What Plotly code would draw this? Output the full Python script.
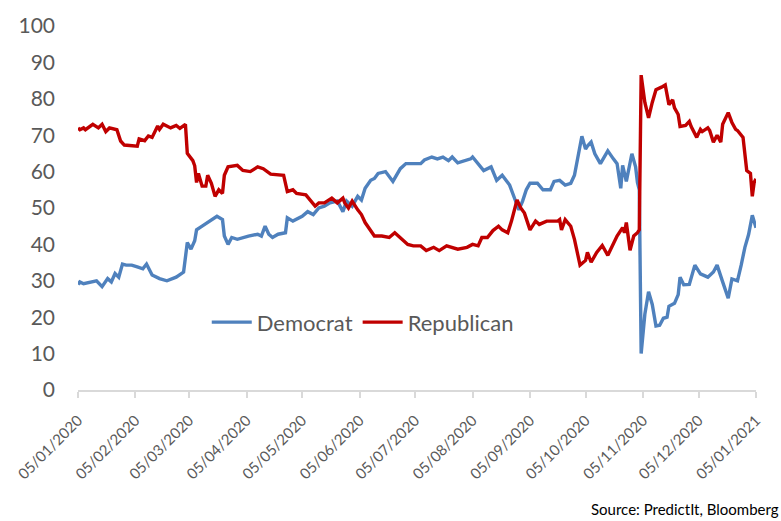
import plotly.graph_objects as go

# PredictIt contract prices (cents) for the 2020 US presidential election winner
rep_dates = [
    "2020-01-05", "2020-01-06", "2020-01-08", "2020-01-09", "2020-01-13", "2020-01-16",
    "2020-01-18", "2020-01-20", "2020-01-22", "2020-01-26", "2020-01-28", "2020-01-30",
    "2020-02-06", "2020-02-07", "2020-02-10", "2020-02-12", "2020-02-14", "2020-02-17",
    "2020-02-18", "2020-02-20", "2020-02-24", "2020-02-27", "2020-02-29", "2020-03-03",
    "2020-03-04", "2020-03-07", "2020-03-08", "2020-03-09", "2020-03-10", "2020-03-12",
    "2020-03-14", "2020-03-15", "2020-03-17", "2020-03-19", "2020-03-21", "2020-03-23",
    "2020-03-24", "2020-03-26", "2020-03-31", "2020-04-03", "2020-04-07", "2020-04-11",
    "2020-04-14", "2020-04-18", "2020-04-25", "2020-04-27", "2020-04-30", "2020-05-02",
    "2020-05-07", "2020-05-09", "2020-05-12", "2020-05-14", "2020-05-17", "2020-05-21",
    "2020-05-24", "2020-05-27", "2020-05-28", "2020-05-30", "2020-06-01", "2020-06-04",
    "2020-06-06", "2020-06-08", "2020-06-11", "2020-06-13", "2020-06-17", "2020-06-21",
    "2020-06-24", "2020-06-27", "2020-07-01", "2020-07-04", "2020-07-08", "2020-07-11",
    "2020-07-15", "2020-07-18", "2020-07-22", "2020-07-28", "2020-08-02", "2020-08-05",
    "2020-08-08", "2020-08-10", "2020-08-13", "2020-08-16", "2020-08-19", "2020-08-21",
    "2020-08-24", "2020-08-26", "2020-08-29", "2020-08-31", "2020-09-02", "2020-09-05",
    "2020-09-08", "2020-09-10", "2020-09-14", "2020-09-20", "2020-09-21", "2020-09-22",
    "2020-09-24", "2020-09-27", "2020-09-29", "2020-10-02", "2020-10-05", "2020-10-06",
    "2020-10-08", "2020-10-11", "2020-10-14", "2020-10-17", "2020-10-20", "2020-10-22",
    "2020-10-25", "2020-10-26", "2020-10-27", "2020-10-29", "2020-10-31", "2020-11-02",
    "2020-11-03", "2020-11-04", "2020-11-06", "2020-11-08", "2020-11-10", "2020-11-12",
    "2020-11-15", "2020-11-17", "2020-11-19", "2020-11-21", "2020-11-22", "2020-11-24",
    "2020-11-25", "2020-11-28", "2020-11-30", "2020-12-01", "2020-12-04", "2020-12-06",
    "2020-12-07", "2020-12-10", "2020-12-11", "2020-12-13", "2020-12-15", "2020-12-17",
    "2020-12-18", "2020-12-21", "2020-12-23", "2020-12-25", "2020-12-26", "2020-12-29",
    "2020-12-31", "2021-01-02", "2021-01-03", "2021-01-04", "2021-01-05",
]
rep_values = [
    72, 71.5, 72, 71.5, 73, 72,
    73, 71, 72, 71.5, 68.4, 67.3,
    67, 69, 68.5, 69.8, 69.4, 72.5,
    71.6, 73, 72, 72.7, 71.9, 73,
    65, 63, 61.6, 57, 59.5, 56,
    56, 59, 56.8, 53.2, 55, 54,
    59, 61.3, 61.7, 60.3, 60, 61.3,
    60.8, 59.3, 59, 54.5, 55, 54,
    53.6, 52.2, 50.5, 51.4, 51.4, 52.7,
    51.4, 52.7, 51.4, 50, 51.9, 49.5,
    48.2, 46, 44, 42.3, 42.3, 41.9,
    43.2, 41.9, 40, 39.6, 39.6, 38.3,
    39.2, 38.3, 39.6, 38.7, 39.2, 40,
    39.6, 41.9, 41.9, 43.8, 45, 44,
    43.2, 46.4, 52.2, 50, 48.6, 44,
    46.4, 45.5, 46.4, 46.4, 46.8, 44,
    46.8, 45, 41.4, 34.3, 35.6, 37.8,
    35.1, 37.8, 39.7, 37, 40, 42.3,
    44.6, 43.2, 46, 38.4, 42.3, 43.2,
    44, 86.5, 79, 74.8, 79, 82.5,
    83.2, 83.8, 78.4, 79.7, 77.5, 75.7,
    72.4, 72.7, 73.8, 72.4, 69.4, 71.6,
    71, 72, 71.3, 68.1, 70, 68.1,
    73, 76.2, 73.5, 71.6, 71.3, 69.4,
    60.3, 59.5, 53.2, 57, 58,
]

dem_dates = [
    "2020-01-05", "2020-01-06", "2020-01-08", "2020-01-11", "2020-01-15", "2020-01-18",
    "2020-01-21", "2020-01-23", "2020-01-25", "2020-01-27", "2020-01-29", "2020-01-31",
    "2020-02-03", "2020-02-06", "2020-02-09", "2020-02-11", "2020-02-14", "2020-02-18",
    "2020-02-22", "2020-02-27", "2020-03-02", "2020-03-04", "2020-03-06", "2020-03-08",
    "2020-03-09", "2020-03-12", "2020-03-15", "2020-03-17", "2020-03-20", "2020-03-23",
    "2020-03-24", "2020-03-26", "2020-03-28", "2020-03-31", "2020-04-03", "2020-04-06",
    "2020-04-11", "2020-04-13", "2020-04-15", "2020-04-17", "2020-04-19", "2020-04-22",
    "2020-04-26", "2020-04-27", "2020-04-30", "2020-05-03", "2020-05-05", "2020-05-08",
    "2020-05-11", "2020-05-14", "2020-05-17", "2020-05-20", "2020-05-24", "2020-05-27",
    "2020-05-29", "2020-06-01", "2020-06-04", "2020-06-06", "2020-06-08", "2020-06-11",
    "2020-06-13", "2020-06-15", "2020-06-19", "2020-06-23", "2020-06-27", "2020-06-30",
    "2020-07-08", "2020-07-10", "2020-07-14", "2020-07-17", "2020-07-20", "2020-07-23",
    "2020-07-25", "2020-07-28", "2020-08-04", "2020-08-05", "2020-08-09", "2020-08-11",
    "2020-08-15", "2020-08-18", "2020-08-21", "2020-08-24", "2020-08-25", "2020-08-28",
    "2020-08-30", "2020-09-01", "2020-09-03", "2020-09-05", "2020-09-09", "2020-09-12",
    "2020-09-16", "2020-09-18", "2020-09-21", "2020-09-24", "2020-09-27", "2020-09-29",
    "2020-10-01", "2020-10-03", "2020-10-05", "2020-10-06", "2020-10-08", "2020-10-10",
    "2020-10-13", "2020-10-15", "2020-10-17", "2020-10-20", "2020-10-22", "2020-10-24",
    "2020-10-25", "2020-10-27", "2020-10-30", "2020-11-01", "2020-11-02", "2020-11-03",
    "2020-11-04", "2020-11-06", "2020-11-08", "2020-11-10", "2020-11-12", "2020-11-14",
    "2020-11-16", "2020-11-18", "2020-11-19", "2020-11-22", "2020-11-24", "2020-11-25",
    "2020-11-27", "2020-11-30", "2020-12-03", "2020-12-06", "2020-12-10", "2020-12-13",
    "2020-12-15", "2020-12-18", "2020-12-21", "2020-12-23", "2020-12-26", "2020-12-28",
    "2020-12-30", "2021-01-01", "2021-01-03", "2021-01-05",
]
dem_values = [
    29, 29.7, 29.2, 29.5, 30, 28.4,
    30.6, 29.7, 32, 31, 34.6, 34.3,
    34.3, 33.8, 33.3, 34.6, 31.6, 30.6,
    30, 31, 32.4, 40.5, 38.7, 41,
    44, 45, 46, 46.8, 47.7, 46.8,
    42.3, 40, 41.9, 41.4, 41.9, 42.3,
    42.8, 42.3, 45, 42.8, 41.9, 42.8,
    43.2, 47.3, 46.4, 47.3, 47.7, 49,
    48.2, 50, 50.5, 51.4, 51.9, 49,
    51.9, 50.5, 53.2, 52.2, 55.4, 57.6,
    58.1, 59.5, 60, 57.3, 60.8, 62.2,
    62.2, 63.2, 64, 63.5, 64, 63,
    64, 62.4, 63.5, 64, 61.7, 60.3,
    61.3, 57.6, 59, 57, 56.3, 52.2,
    49.5, 51.9, 55, 56.8, 56.8, 55,
    55, 57.3, 57.6, 56.3, 56.8, 59,
    64.9, 69.7, 66.2, 67, 68.1, 64.9,
    62.2, 64, 65.7, 63.5, 62.2, 55.4,
    61.7, 57.3, 64.9, 61.3, 57, 55,
    10, 20.8, 27, 23.5, 17.6, 17.8,
    19.7, 20, 23, 23.8, 26.2, 31,
    28.9, 29, 34.3, 31.9, 31, 32.4,
    34.3, 29.7, 25.2, 30.5, 30, 34.3,
    39.2, 42.7, 48, 44.6,
]

# Monthly tick positions and their dd/mm/yyyy labels
tick_dates = [
    "2020-01-05", "2020-02-05", "2020-03-05", "2020-04-05", "2020-05-05", "2020-06-05",
    "2020-07-05", "2020-08-05", "2020-09-05", "2020-10-05", "2020-11-05", "2020-12-05",
    "2021-01-05",
]
tick_labels = [
    "05/01/2020", "05/02/2020", "05/03/2020", "05/04/2020", "05/05/2020", "05/06/2020",
    "05/07/2020", "05/08/2020", "05/09/2020", "05/10/2020", "05/11/2020", "05/12/2020",
    "05/01/2021",
]

FONT = "Lato, 'Open Sans', sans-serif"
GREY = "#595959"

fig = go.Figure()
fig.add_trace(go.Scatter(
    x=dem_dates, y=dem_values, name="Democrat", mode="lines",
    line=dict(color="#4F81BD", width=3.4),
))
fig.add_trace(go.Scatter(
    x=rep_dates, y=rep_values, name="Republican", mode="lines",
    line=dict(color="#C00000", width=3.4),
))

fig.update_layout(
    width=781, height=521,
    margin=dict(l=78, r=25, t=20, b=131),
    paper_bgcolor="white", plot_bgcolor="white",
    font=dict(family=FONT, color=GREY),
    showlegend=True,
    legend=dict(
        orientation="h", x=0.42, y=0.186, xanchor="center", yanchor="middle",
        font=dict(size=22, color=GREY), bgcolor="rgba(0,0,0,0)",
        itemwidth=40, tracegroupgap=0,
    ),
    xaxis=dict(
        type="date",
        range=["2020-01-05", "2021-01-05"],
        tickvals=tick_dates, ticktext=tick_labels,
        tickangle=-45, tickfont=dict(size=15, color=GREY),
        showline=True, linecolor="#D9D9D9", linewidth=1.5,
        ticks="outside", ticklen=6, tickcolor="#D9D9D9", tickwidth=1.5,
        ticklabelstandoff=8,
        showgrid=False, zeroline=False,
    ),
    yaxis=dict(
        range=[0, 100], dtick=10, tick0=0,
        tickfont=dict(size=21, color=GREY),
        showline=False, showgrid=False, zeroline=False,
        ticks="", ticklabelstandoff=22,
    ),
    annotations=[dict(
        text="Source: PredictIt, Bloomberg",
        xref="paper", yref="paper", x=1.037, y=-0.327,
        xanchor="right", yanchor="middle", showarrow=False,
        font=dict(size=15, color="black", family=FONT),
    )],
)

fig.write_html("out.html")
